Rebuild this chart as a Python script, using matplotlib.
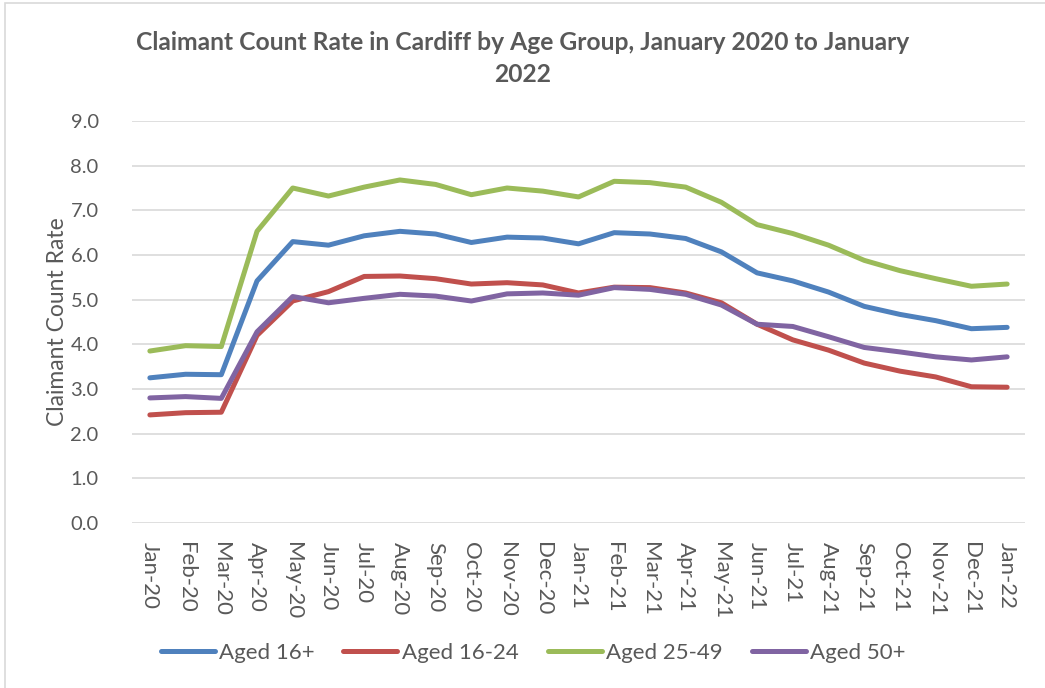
import matplotlib
matplotlib.use('Agg')
import matplotlib.pyplot as plt
from matplotlib.patches import Rectangle

plt.rcParams['font.family'] = ['Lato', 'DejaVu Sans']

months = ['Jan-20', 'Feb-20', 'Mar-20', 'Apr-20', 'May-20', 'Jun-20', 'Jul-20', 'Aug-20',
          'Sep-20', 'Oct-20', 'Nov-20', 'Dec-20', 'Jan-21', 'Feb-21', 'Mar-21', 'Apr-21',
          'May-21', 'Jun-21', 'Jul-21', 'Aug-21', 'Sep-21', 'Oct-21', 'Nov-21', 'Dec-21', 'Jan-22']

aged_16_plus = [3.25, 3.33, 3.32, 5.42, 6.30, 6.22, 6.43, 6.53, 6.47, 6.28, 6.40, 6.38, 6.25,
                6.50, 6.47, 6.37, 6.07, 5.60, 5.42, 5.17, 4.85, 4.67, 4.53, 4.35, 4.38]
aged_16_24 = [2.42, 2.47, 2.48, 4.20, 4.97, 5.18, 5.52, 5.53, 5.47, 5.35, 5.38, 5.33, 5.15,
              5.28, 5.27, 5.15, 4.93, 4.45, 4.10, 3.87, 3.58, 3.40, 3.27, 3.05, 3.04]
aged_25_49 = [3.85, 3.97, 3.95, 6.53, 7.50, 7.32, 7.52, 7.68, 7.58, 7.35, 7.50, 7.43, 7.30,
              7.65, 7.62, 7.52, 7.18, 6.68, 6.48, 6.22, 5.88, 5.65, 5.47, 5.30, 5.35]
aged_50_plus = [2.80, 2.83, 2.79, 4.28, 5.07, 4.93, 5.03, 5.12, 5.08, 4.97, 5.13, 5.15, 5.10,
                5.27, 5.23, 5.12, 4.88, 4.45, 4.40, 4.17, 3.93, 3.83, 3.72, 3.65, 3.72]

series = [('Aged 16+', aged_16_plus, '#4F81BD'),
          ('Aged 16-24', aged_16_24, '#C0504D'),
          ('Aged 25-49', aged_25_49, '#9BBB59'),
          ('Aged 50+', aged_50_plus, '#8064A2')]

txt = '#595959'
W, H = 1045, 688
fig = plt.figure(figsize=(W / 100, H / 100), dpi=100)
ax = fig.add_axes([132 / W, 1 - 523 / H, (1025 - 132) / W, (523 - 121) / H])

x = list(range(len(months)))
for name, vals, col in series:
    ax.plot(x, vals, color=col, lw=3.6, label=name, solid_capstyle='round', solid_joinstyle='round')

ax.set_xlim(-0.5, len(months) - 0.5)
ax.set_ylim(0, 9)
ax.set_yticks(range(0, 10))
ax.set_yticklabels([f'{v:.1f}' for v in range(0, 10)])
ax.set_xticks(x)
ax.set_xticklabels(months, rotation=-90)
ax.tick_params(axis='both', length=0, labelcolor=txt)
ax.tick_params(axis='y', pad=24, labelsize=14.5)
ax.tick_params(axis='x', pad=14, labelsize=16)
ax.grid(axis='y', color='#D9D9D9', lw=1.2)
ax.set_axisbelow(True)
for s in ax.spines.values():
    s.set_visible(False)

ax.set_ylabel('Claimant Count Rate', fontsize=16.5, color=txt)
ax.yaxis.set_label_coords(-0.072, 0.5)

fig.text(0.5, 1 - 43 / H, 'Claimant Count Rate in Cardiff by Age Group, January 2020 to January',
         ha='center', va='center', fontsize=17.7, fontweight='bold', color=txt)
fig.text(0.5, 1 - 74 / H, '2022', ha='center', va='center', fontsize=17.7,
         fontweight='bold', color=txt)

leg = fig.legend(loc='center', bbox_to_anchor=(533 / W, 1 - 653 / H), ncol=4, frameon=False,
                 fontsize=16, handlelength=2.43, handletextpad=0.2, columnspacing=1.3)
for t in leg.get_texts():
    t.set_color(txt)

# light chart-area frame (right and bottom edges fall outside the crop)
fig.patches.append(Rectangle((5 / W, -0.05), 1.1, 1.05 - 3 / H, transform=fig.transFigure,
                             fill=False, edgecolor='#D9D9D9', lw=1.2))

fig.savefig('out.png', dpi=100)
